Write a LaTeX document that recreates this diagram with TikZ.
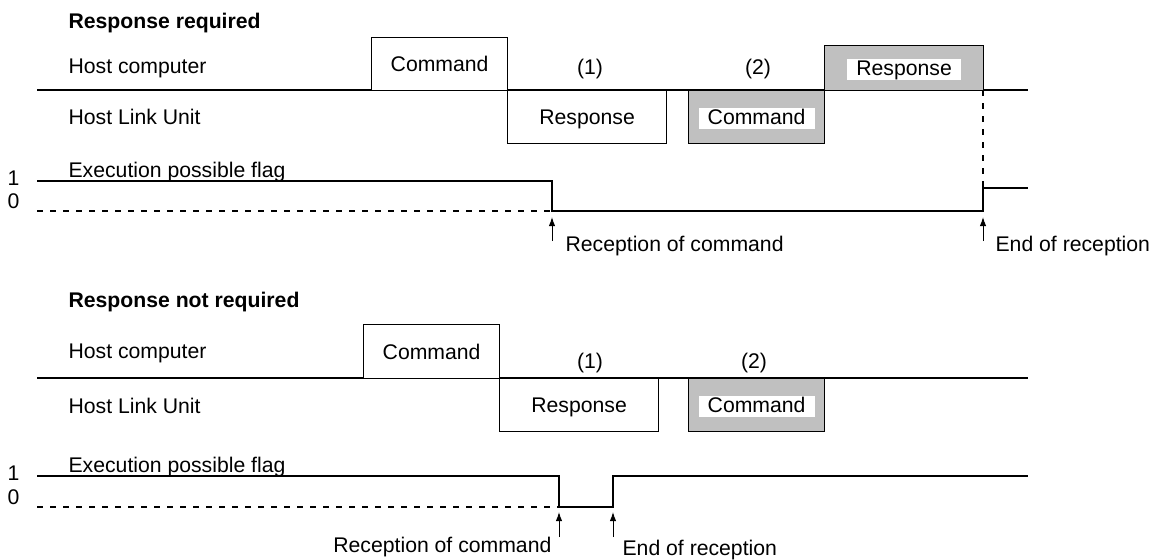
\documentclass[tikz,border=0pt]{standalone}
\usepackage{fontspec}
\setmainfont{Liberation Sans}
\usetikzlibrary{arrows.meta, positioning}
\definecolor{shade}{HTML}{C0C0C0}

\begin{document}
\begin{tikzpicture}[x=0.5pt, y=-0.5pt, line width=0.6pt,
  every node/.style={font=\fontsize{10.6}{12.7}\selectfont},
  lbl/.style={anchor=base west, inner sep=0pt},
  heading/.style={lbl, font=\fontsize{10.6}{12.7}\selectfont\bfseries},
  slot/.style={draw, fill=white, anchor=north west, inner sep=0pt, text height=7.6pt, text depth=0pt, minimum height=26.5pt},
  shaded/.style={slot, fill=shade},
  tag/.style={fill=white, inner xsep=4.5pt, inner ysep=0.4pt, text height=7.6pt, text depth=2.2pt, yshift=-0.8pt},
  idle/.style={dash pattern=on 3pt off 3.5pt},
  arrow/.style={-{Latex[length=4.5pt, width=3.2pt]}, line width=0.5pt}]
\useasboundingbox (0,0) rectangle (1153,559);

\node[heading] (titleA) at (68,28) {Response required};
\node[lbl] (hostA) at (68,73) {Host computer};
\node[lbl] (unitA) at (68,124) {Host Link Unit};
\node[lbl] (flagA) at (68,177) {Execution possible flag};
\node[lbl] (oneA) at (7,185) {1};
\node[lbl] (zeroA) at (7,208) {0};
\draw (37,90) -- (1028,90);
\node[slot, minimum width=68pt] (cmdA) at (371,37) {Command};
\node[slot, minimum width=79.5pt] (rspA) at (507,90) {Response};
\node[shaded, minimum width=68pt] (cmdB) at (688,90) {};
\node[tag] at (cmdB) {Command};
\node[shaded, minimum width=79.5pt, minimum height=22.5pt] (rspB) at (824,45) {};
\node[tag] at (rspB) {Response};
\node[anchor=base, inner sep=0pt] (oneNoteA) at (590,74) {(1)};
\node[anchor=base, inner sep=0pt] (twoNoteA) at (758,74) {(2)};
\draw (37,181) -- (552,181) -- (552,211) -- (983,211) -- (983,188) -- (1028,188);
\draw[idle] (37,211) -- (552,211);
\draw[idle] (983,90) -- (983,188);
\coordinate (recA) at (552,217);
\coordinate (recAfoot) at (552,241);
\coordinate (endA) at (983,217);
\coordinate (endAfoot) at (983,241);
\draw[arrow] (recAfoot) -- (recA);
\draw[arrow] (endAfoot) -- (endA);
\node[lbl] (recTextA) at (565,251) {Reception of command};
\node[lbl] (endTextA) at (995,251) {End of reception};

\node[heading] (titleB) at (68,307) {Response not required};
\node[lbl] (hostB) at (68,358) {Host computer};
\node[lbl] (unitB) at (68,413) {Host Link Unit};
\node[lbl] (flagB) at (68,472) {Execution possible flag};
\node[lbl] (oneB) at (7,480) {1};
\node[lbl] (zeroB) at (7,504) {0};
\draw (37,378) -- (1028,378);
\node[slot, minimum width=68pt, minimum height=27pt] (cmdC) at (363,324) {Command};
\node[slot, minimum width=79.5pt] (rspC) at (499,378) {Response};
\node[shaded, minimum width=68pt] (cmdD) at (688,378) {};
\node[tag] at (cmdD) {Command};
\node[anchor=base, inner sep=0pt] (oneNoteB) at (590,368) {(1)};
\node[anchor=base, inner sep=0pt] (twoNoteB) at (754,368) {(2)};
\draw (37,476) -- (559,476) -- (559,507) -- (613,507) -- (613,476) -- (1028,476);
\draw[idle] (37,507) -- (559,507);
\coordinate (recB) at (559,512);
\coordinate (recBfoot) at (559,537);
\coordinate (endB) at (613,512);
\coordinate (endBfoot) at (613,537);
\draw[arrow] (recBfoot) -- (recB);
\draw[arrow] (endBfoot) -- (endB);
\node[lbl, anchor=base east] (recTextB) at (552,552) {Reception of command};
\node[lbl] (endTextB) at (622,555) {End of reception};
\end{tikzpicture}
\end{document}
